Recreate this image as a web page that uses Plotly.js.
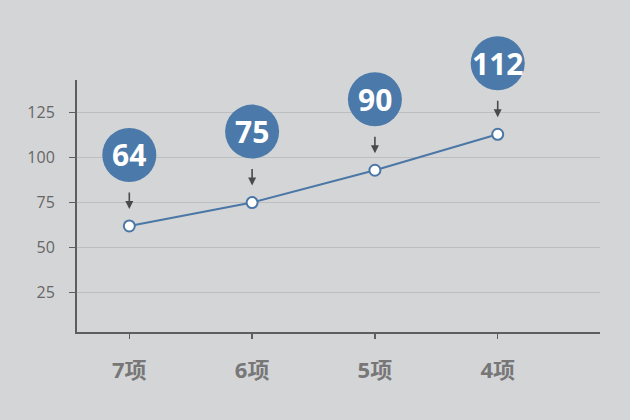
<!DOCTYPE html>
<html>
<head>
<meta charset="utf-8">
<script src="https://cdn.plot.ly/plotly-3.0.1.min.js"></script>
<style>html,body{margin:0;padding:0;background:#d4d5d7;}#chart{width:630px;height:420px;}</style>
</head>
<body>
<div id="chart"></div>
<script>
var categories = ['7项', '6项', '5项', '4项'];
var values = [62, 75, 93, 113];
var bubbleLabels = ['64', '75', '90', '112'];
var yTickVals = [25, 50, 75, 100, 125];

var blue = '#4a77a6';
var bubbleBlue = '#4b79a9';

var yMin = 3, yMax = 143.2;
var topMargin = 10, bottomMargin = 88, plotTopPx = 80;
var fullH = 420 - topMargin - bottomMargin;
var mainH = 420 - plotTopPx - bottomMargin;
var y2Max = yMin + (yMax - yMin) * fullH / mainH;

var trace = {
  x: categories,
  y: values,
  type: 'scatter',
  mode: 'lines+markers',
  line: {color: blue, width: 2},
  marker: {size: 11, color: '#ffffff', line: {color: blue, width: 2}},
  hoverinfo: 'skip',
  cliponaxis: false
};
// invisible helper trace on the taller overlay axis (same scale) so bubbles are not clipped
var helper = {
  x: categories, y: values, yaxis: 'y2', type: 'scatter', mode: 'markers',
  marker: {opacity: 0}, hoverinfo: 'skip', showlegend: false
};

var shapes = [];
var annotations = [];
categories.forEach(function (c, i) {
  shapes.push({
    type: 'circle', xref: 'x', yref: 'y2',
    xsizemode: 'pixel', ysizemode: 'pixel',
    xanchor: i, yanchor: values[i],
    x0: -27, x1: 27, y0: 44, y1: 98,
    fillcolor: bubbleBlue, line: {width: 0}, layer: 'above'
  });
  annotations.push({
    x: i, y: values[i], xref: 'x', yref: 'y',
    text: bubbleLabels[i], showarrow: false, yshift: 71,
    font: {family: 'Open Sans, sans-serif', size: 30, color: '#ffffff', weight: 700}
  });
  annotations.push({
    x: i, y: values[i], xref: 'x', yref: 'y',
    text: '', showarrow: true, ax: 0, ay: -35, axref: 'pixel', ayref: 'pixel',
    arrowhead: 2, arrowsize: 1, arrowwidth: 1.6, arrowcolor: '#4a4a4a', standoff: 17
  });
});

var layout = {
  width: 630, height: 420,
  paper_bgcolor: '#d4d5d7', plot_bgcolor: 'rgba(0,0,0,0)',
  margin: {l: 77, r: 30, t: topMargin, b: bottomMargin},
  showlegend: false,
  xaxis: {
    type: 'category', range: [-0.426, 3.833],
    anchor: 'y',
    showgrid: false, zeroline: false,
    showline: true, linecolor: '#5e5e5e', linewidth: 2,
    ticks: 'outside', ticklen: 5, tickcolor: '#5e5e5e', tickwidth: 1.5,
    ticklabelstandoff: 13,
    tickfont: {family: 'Open Sans, Noto Sans CJK SC, sans-serif', size: 22, color: '#777777', weight: 700}
  },
  yaxis: {
    domain: [0, mainH / fullH],
    range: [yMin, yMax],
    tickvals: yTickVals, ticktext: yTickVals.map(String),
    showgrid: true, gridcolor: '#bdbec0', gridwidth: 1.5,
    zeroline: false,
    showline: true, linecolor: '#5e5e5e', linewidth: 2,
    ticks: 'outside', ticklen: 6, tickcolor: '#5e5e5e', tickwidth: 1.5,
    ticklabelstandoff: 11,
    tickfont: {family: 'Open Sans, sans-serif', size: 16, color: '#666666'}
  },
  yaxis2: {
    domain: [0, 1], anchor: 'x',
    range: [yMin, y2Max],
    visible: false, showgrid: false, zeroline: false
  },
  shapes: shapes,
  annotations: annotations
};

Plotly.newPlot('chart', [trace, helper], layout, {displayModeBar: false, staticPlot: true});
</script>
</body>
</html>
